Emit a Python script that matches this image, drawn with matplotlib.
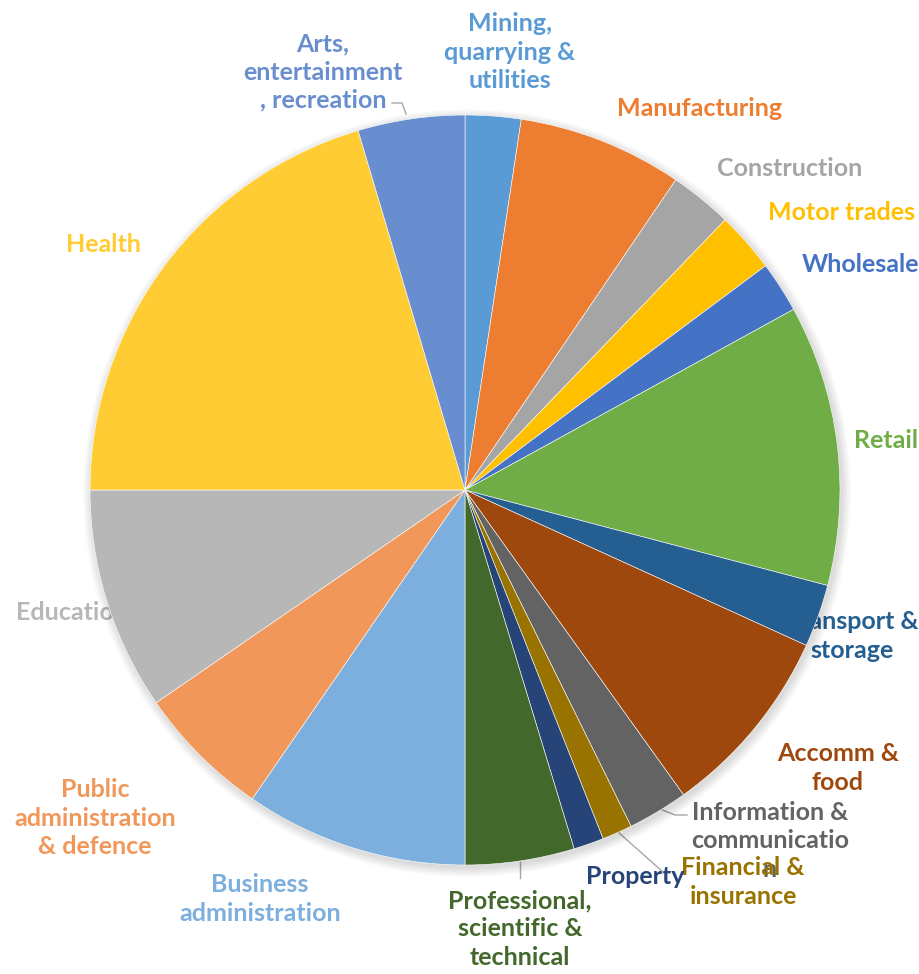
import matplotlib
matplotlib.use("Agg")
import matplotlib.pyplot as plt
import matplotlib.patches as mpatches
import numpy as np

# Share of each sector (%), clockwise from 12 o'clock
SECTORS = [
    "Mining,\nquarrying &\nutilities", "Manufacturing", "Construction",
    "Motor trades", "Wholesale", "Retail", "Transport &\nstorage",
    "Accomm &\nfood", "Information &\ncommunicatio\nn", "Financial &\ninsurance",
    "Property", "Professional,\nscientific &\ntechnical",
    "Business\nadministration", "Public\nadministration\n& defence",
    "Education", "Health", "Arts,\nentertainment\n, recreation",
]
SHARES = [2.4, 7.1, 2.7, 2.6, 2.2, 12.1, 2.7, 8.3, 2.6, 1.3, 1.3, 4.7,
          9.6, 5.8, 9.6, 20.4, 4.6]
COLORS = ["#5B9BD5", "#ED7D31", "#A5A5A5", "#FFC000", "#4472C4", "#70AD47",
          "#255E91", "#9E480E", "#636363", "#997300", "#264478", "#43682B",
          "#7CAFDD", "#F1975A", "#B7B7B7", "#FFCD33", "#698ED0"]

# label centres in pixel coords (x, y from top)
LABEL_POS = [(510, 52), (700, 108), (790, 168), (841, 213), (861, 265),
             (886, 440), (852, 636), (838, 768), (770, 841), (743, 882),
             (635, 877), (520, 929), (260, 899), (95, 818), (72, 612),
             (103, 245), (323, 72)]

W, H = 919, 974
CX, CY, R = 465, 490, 375

fig = plt.figure(figsize=(W / 100, H / 100), dpi=100)
ax = fig.add_axes([0, 0, 1, 1])

# soft shadow
for k in range(12):
    ax.add_patch(mpatches.Circle((CX + 2, H - CY - 3), R + 9 - k * 0.8,
                                 color="black", alpha=0.012, lw=0, zorder=2))

wedges, _ = ax.pie(SHARES, colors=COLORS, startangle=90, counterclock=False,
                   center=(CX, H - CY), radius=R, frame=True,
                   wedgeprops=dict(edgecolor="white", linewidth=0.4))
for w in wedges:
    w.set_zorder(3)
ax.set_xlim(0, W)
ax.set_ylim(0, H)
ax.set_aspect("equal")
ax.axis("off")

for lab, (x, y), c in zip(SECTORS, LABEL_POS, COLORS):
    ax.text(x, H - y, lab, color=c, ha="center", va="center",
            fontsize=18, fontweight="bold", family="Lato",
            linespacing=1.28, zorder=1)

# leader lines
lc = "#A6A6A6"
ax.plot([392, 402, 406], [H - 103, H - 103, H - 114], color=lc, lw=1, zorder=1)
ax.plot([660, 675, 687], [H - 809, H - 815, H - 815], color=lc, lw=1, zorder=1)
ax.plot([618, 663], [H - 832, H - 872], color=lc, lw=1, zorder=1)
ax.plot([520, 520], [H - 862, H - 878], color=lc, lw=1, zorder=1)

fig.savefig("out.png", dpi=100)
